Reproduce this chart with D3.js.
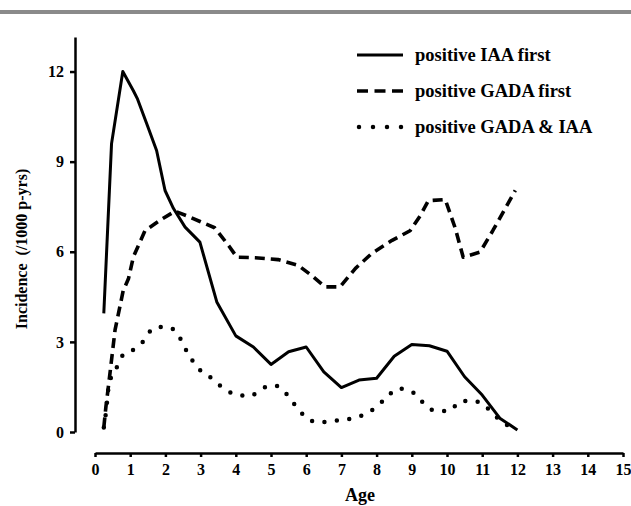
<!DOCTYPE html>
<meta charset="utf-8">
<script src="https://d3js.org/d3.v7.min.js"></script>
<style>
  body { margin: 0; background: #fff; }
</style>
<div id="chart"></div>
<script>

// age (years) and incidence per 1000 person-years
var iaaAge = [0.25, 0.47, 0.79, 1.09, 1.21, 1.47, 1.75, 1.99, 2.23, 2.56, 2.98, 3.46, 4.0, 4.5, 5.0, 5.5, 6.0, 6.5, 7.0, 7.5, 8.0, 8.5, 9.0, 9.5, 10.0, 10.5, 11.0, 11.5, 12.0];
var iaaVal = [3.95, 9.6, 12.0, 11.36, 11.08, 10.26, 9.37, 8.04, 7.44, 6.82, 6.32, 4.33, 3.2, 2.83, 2.25, 2.67, 2.83, 2.0, 1.48, 1.73, 1.79, 2.52, 2.91, 2.87, 2.69, 1.84, 1.23, 0.46, 0.07];

var gadaAge = [0.25, 0.31, 0.4, 0.57, 0.8, 0.95, 1.09, 1.42, 1.85, 2.27, 2.6, 3.0, 3.4, 3.8, 4.03, 4.55, 5.2, 5.77, 6.17, 6.54, 6.96, 7.4, 7.87, 8.44, 8.95, 9.24, 9.47, 9.95, 10.23, 10.46, 10.94, 11.3, 11.94];
var gadaVal = [0.15, 0.84, 1.7, 3.4, 4.7, 5.1, 5.83, 6.7, 7.05, 7.35, 7.2, 7.0, 6.8, 6.2, 5.82, 5.8, 5.74, 5.55, 5.2, 4.83, 4.83, 5.45, 5.95, 6.38, 6.7, 7.2, 7.7, 7.74, 6.8, 5.82, 5.99, 6.7, 8.04];

var bothAge = [0.25, 0.31, 0.4, 0.6, 0.75, 1.1, 1.4, 1.65, 1.95, 2.3, 2.5, 2.7, 2.95, 3.3, 3.6, 4.0, 4.4, 4.75, 5.1, 5.45, 5.7, 6.0, 6.35, 6.8, 7.2, 7.6, 8.0, 8.3, 8.6, 9.0, 9.3, 9.65, 10.05, 10.4, 10.75, 11.1, 11.45, 11.9];
var bothVal = [0.15, 0.64, 1.6, 2.1, 2.5, 2.75, 3.05, 3.45, 3.5, 3.37, 2.92, 2.5, 2.1, 1.8, 1.5, 1.25, 1.2, 1.45, 1.55, 1.25, 0.87, 0.48, 0.32, 0.37, 0.43, 0.56, 0.84, 1.17, 1.45, 1.34, 1.0, 0.71, 0.7, 1.03, 1.04, 0.84, 0.45, 0.1];

var xTicks = d3.range(0, 16);
var yTicks = [0, 3, 6, 9, 12];

var series = [
  {name: "positive IAA first", age: iaaAge, val: iaaVal, dash: null, width: 3, cap: "butt", curve: d3.curveLinear},
  {name: "positive GADA first", age: gadaAge, val: gadaVal, dash: "10,6", width: 3.6, cap: "butt", curve: d3.curveLinear},
  {name: "positive GADA & IAA", age: bothAge, val: bothVal, dash: "0,12.5", width: 4.5, cap: "round", curve: d3.curveMonotoneX}
];

var font = "Liberation Serif";
var width = 631, height = 506;

var svg = d3.select("#chart")
  .append("svg")
  .attr("width", width)
  .attr("height", height);

// grey rule at top of the figure
svg.append("rect")
  .attr("x", 0).attr("y", 10)
  .attr("width", width).attr("height", 4)
  .attr("fill", "#8a8a8a");

var x = d3.scaleLinear().domain([0, 15]).range([95, 623]);
var y = d3.scaleLinear().domain([0, 13.15]).range([432, 37]);

// y axis
var yAxis = svg.append("g")
  .attr("transform", "translate(75,0)")
  .call(d3.axisLeft(y).tickValues(yTicks).tickSize(5).tickSizeOuter(0).tickPadding(6));
yAxis.attr("font-family", font).attr("font-size", 16).attr("font-weight", "bold");
yAxis.select(".domain").attr("stroke", "#000").attr("stroke-width", 2.5);
yAxis.selectAll(".tick line").attr("stroke", "#000").attr("stroke-width", 2.5);
yAxis.selectAll(".tick text").attr("fill", "#000");

// x axis
var xAxis = svg.append("g")
  .attr("transform", "translate(0,453)")
  .call(d3.axisBottom(x).tickValues(xTicks).tickSize(4).tickSizeOuter(0).tickPadding(7));
xAxis.attr("font-family", font).attr("font-size", 16).attr("font-weight", "bold");
xAxis.select(".domain").attr("stroke", "#000").attr("stroke-width", 2.5);
xAxis.selectAll(".tick line").attr("stroke", "#000").attr("stroke-width", 2.5);
xAxis.selectAll(".tick text").attr("fill", "#000");

// axis titles
svg.append("text")
  .attr("x", 360).attr("y", 501)
  .attr("text-anchor", "middle")
  .attr("font-family", font).attr("font-weight", "bold")
  .attr("font-size", 18)
  .text("Age");

svg.append("text")
  .attr("transform", "translate(27,249) rotate(-90)")
  .attr("text-anchor", "middle")
  .attr("font-family", font).attr("font-weight", "bold")
  .attr("font-size", 16)
  .attr("xml:space", "preserve")
  .text("Incidence  (/1000 p-yrs)");

// lines
series.forEach(function(s) {
  var pts = s.age.map(function(a, i) { return [a, s.val[i]]; });
  var line = d3.line()
    .x(function(d) { return x(d[0]); })
    .y(function(d) { return y(d[1]); })
    .curve(s.curve);
  svg.append("path")
    .attr("d", line(pts))
    .attr("fill", "none")
    .attr("stroke", "#000")
    .attr("stroke-width", s.width)
    .attr("stroke-linecap", s.cap)
    .attr("stroke-linejoin", "round")
    .attr("stroke-dasharray", s.dash);
});

// legend
var legend = svg.selectAll(".leg")
  .data(series)
  .enter()
  .append("g")
  .attr("transform", function(d, i) { return "translate(357," + (55 + i * 36) + ")"; });

legend.append("line")
  .attr("x1", function(d, i) { return i == 2 ? 2 : 0; })
  .attr("x2", 46)
  .attr("y1", 0).attr("y2", 0)
  .attr("stroke", "#000")
  .attr("stroke-width", function(d) { return d.width; })
  .attr("stroke-linecap", function(d) { return d.cap; })
  .attr("stroke-dasharray", function(d, i) { return i == 1 ? "11,6.5" : (i == 2 ? "0,14" : null); });

legend.append("text")
  .attr("x", 58)
  .attr("y", 6)
  .attr("font-family", font).attr("font-weight", "bold")
  .attr("font-size", 18.5)
  .text(function(d) { return d.name; });

</script>
